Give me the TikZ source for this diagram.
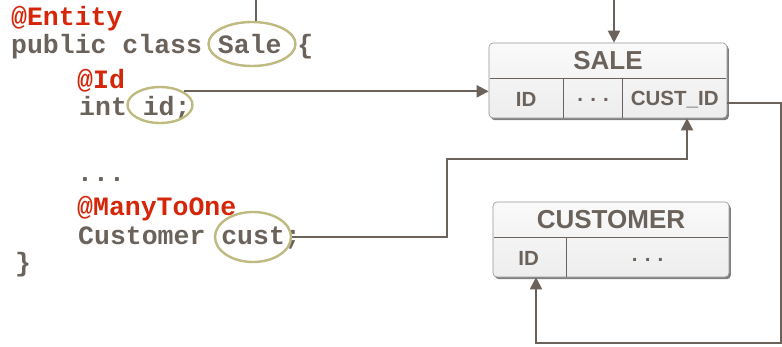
\documentclass[tikz,border=0pt]{standalone}
\usepackage{fontspec}
\setmonofont{Liberation Mono}
\setsansfont{Liberation Sans}
\usetikzlibrary{shapes.geometric,shadows,arrows.meta,calc}
\definecolor{codegray}{RGB}{107,99,91}
\definecolor{codered}{RGB}{214,38,10}
\definecolor{olive}{RGB}{190,186,128}
\definecolor{tblborder}{RGB}{150,150,150}
\tikzset{
  code/.style={anchor=base west,inner sep=0pt,text=codegray,font=\fontsize{26.5}{26.5}\selectfont\ttfamily\bfseries},
  anno/.style={code,text=codered},
  oval/.style={draw=olive,line width=2.4pt,ellipse,inner sep=0pt},
  tbl/.style={draw=tblborder,line width=0.6pt,rounded corners=4pt,top color=gray!4,bottom color=gray!14,
     drop shadow={shadow xshift=1.8pt,shadow yshift=-2.2pt,opacity=0.5,fill=black},inner sep=0pt},
  hdr/.style={text=codegray,font=\fontsize{26}{26}\selectfont\sffamily\bfseries,inner sep=0pt},
  cell/.style={text=codegray,font=\fontsize{20.5}{20.5}\selectfont\sffamily\bfseries,inner sep=0pt},
  divider/.style={draw=codegray,line width=1.2pt},
  conn/.style={draw=codegray,line width=2pt},
  arr/.style={conn,-{Triangle[width=12pt,length=12pt]}}
}
\begin{document}
\begin{tikzpicture}[x=1pt,y=-1pt]
\clip (0,0) rectangle (782,346);
\fill[white] (0,0) rectangle (782,346);
% code
\node[anno] (l1) at (11,25) {@Entity};
\node[code] (l2) at (11,53) {public class Sale \{};
\node[anno] (l3) at (77,88) {@Id};
\node[code] (l4) at (79,115) {int id;};
\node[code] (l5) at (77,181) {...};
\node[anno] (l6) at (77,215) {@ManyToOne};
\node[code] (l7) at (78,244) {Customer cust;};
\node[code] (l8) at (15,271) {\}};
% ovals
\node[oval,minimum width=87pt,minimum height=44pt] (saleE) at (252,44) {};
\node[oval,minimum width=65pt,minimum height=36pt] (idE) at (160,105) {};
\node[oval,minimum width=76pt,minimum height=50pt] (custE) at (253,237) {};
% SALE table
\node[tbl,minimum width=238pt,minimum height=75pt] (SALE) at (608,80.5) {};
\draw[divider] ($(SALE.north west)+(1,36)$) -- ($(SALE.north east)+(-1,36)$);
\draw[divider] ($(SALE.north west)+(75,36)$) -- ($(SALE.south west)+(75,0)$);
\draw[divider] ($(SALE.north west)+(134,36)$) -- ($(SALE.south west)+(134,0)$);
\node[hdr] (saleT) at ($(SALE.north)+(0,18)$) {SALE};
\node[cell] (saleId) at ($(SALE.south west)+(37.5,-19)$) {ID};
\node[cell] (saleDots) at ($(SALE.south west)+(104.5,-18)$) {.\hspace{0.35em}.\hspace{0.35em}.};
\node[cell] (saleCust) at ($(SALE.south west)+(186,-19)$) {CUST\_ID};
% CUSTOMER table
\node[tbl,minimum width=236pt,minimum height=75pt] (CUST) at (611,239.5) {};
\draw[divider] ($(CUST.north west)+(1,36)$) -- ($(CUST.north east)+(-1,36)$);
\draw[divider] ($(CUST.north west)+(74,36)$) -- ($(CUST.south west)+(74,0)$);
\node[hdr] (custT) at ($(CUST.north)+(0,18)$) {CUSTOMER};
\node[cell] (custId) at ($(CUST.south west)+(36,-19)$) {ID};
\node[cell] (custDots) at ($(CUST.south west)+(155,-17)$) {.\hspace{0.35em}.\hspace{0.35em}.};
% connectors
\coordinate (saleOut) at ($(saleE.north)+(4,0)$);
\coordinate (saleIn) at ($(SALE.north)+(6,0)$);
\draw[arr] (saleOut) -- ++(0,-30) -| (saleIn);
\draw[arr] (idE.30) -- (idE.30 -| SALE.west);
\coordinate (c1) at (447,159);
\coordinate (saleFk) at ($(SALE.south)+(79,0)$);
\draw[arr] (custE.east) -| (c1) -| (saleFk);
\coordinate (fkOut) at ($(SALE.east)+(0,22)$);
\coordinate (r1) at (781,343);
\coordinate (custIn) at ($(CUST.south)+(-75,0)$);
\draw[arr] (fkOut) -| (r1) -| (custIn);
\end{tikzpicture}
\end{document}
